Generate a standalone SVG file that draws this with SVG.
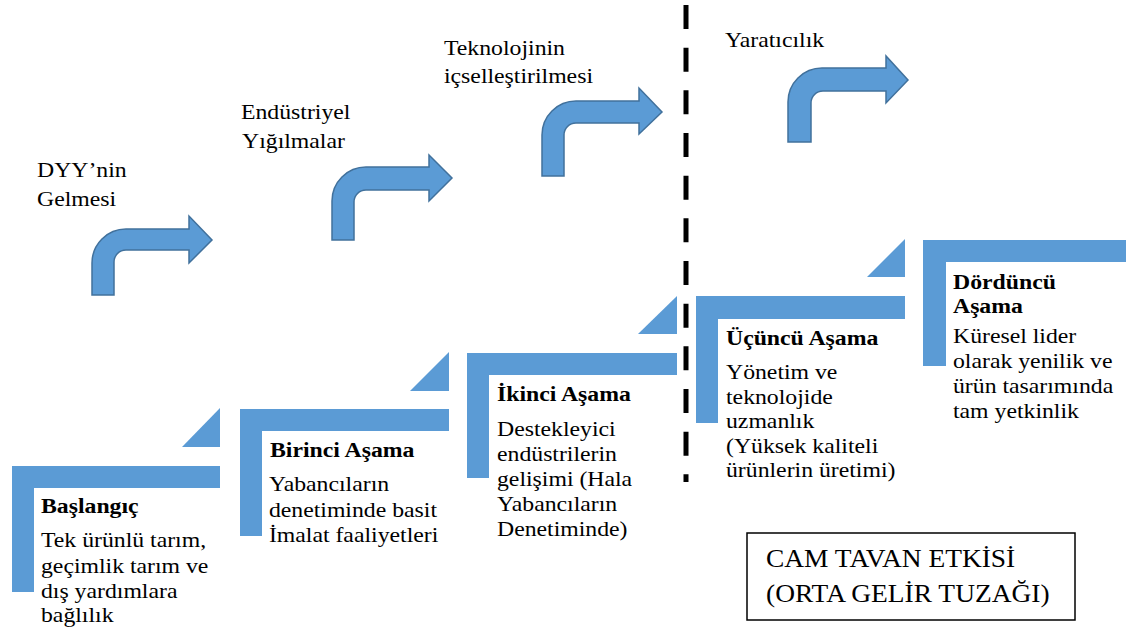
<svg xmlns="http://www.w3.org/2000/svg" width="1126" height="630" viewBox="0 0 1126 630">
<style>
.bar{fill:#5B9BD5}
.arr{fill:#5B9BD5;stroke:#41719C;stroke-width:1.5;stroke-linejoin:miter}
text{font-family:'Liberation Serif','Times New Roman',serif;fill:#000}
.t{font-size:22px}
.h{font-size:22px;font-weight:bold}
.lbl{font-size:22px}
.box{font-size:26px}
</style>
<rect width="1126" height="630" fill="#fff"/>
<g id="connectors">
<path class="arr" d="M92 295 L92 263 A34 34 0 0 1 126 229 L189 229 L189 216 L212 240 L189 263 L189 250 L126 250 A12 12 0 0 0 114 262 L114 295 Z"/>
<path class="arr" d="M332 240 L332 201 A34 34 0 0 1 366 167 L429 167 L429 155 L452 178 L429 201 L429 190 L366 190 A12 12 0 0 0 354 202 L354 240 Z"/>
<path class="arr" d="M542 176 L542 135 A34 34 0 0 1 576 101 L639 101 L639 88 L662 112 L639 134 L639 123 L576 123 A12 12 0 0 0 564 135 L564 176 Z"/>
<path class="arr" d="M788 142 L788 102 A34 34 0 0 1 822 68 L886 68 L886 56 L908 80 L886 103 L886 91 L823 91 A12 12 0 0 0 811 103 L811 142 Z"/>
<line x1="686" y1="5" x2="686" y2="482" stroke="#000" stroke-width="5" stroke-dasharray="24 18.67"/>
</g>
<g id="label-dyy" transform="matrix(1.08 0 0 1 -2.96 0)">
<text class="lbl" x="37" y="177">DYY’nin</text>
<text class="lbl" x="37" y="206">Gelmesi</text>
</g>
<g id="label-endustriyel" transform="matrix(1.08 0 0 1 -19.28 0)">
<text class="lbl" x="241" y="119">Endüstriyel</text>
<text class="lbl" x="242" y="148">Yığılmalar</text>
</g>
<g id="label-teknoloji" transform="matrix(1.08 0 0 1 -35.52 0)">
<text class="lbl" x="444" y="55">Teknolojinin</text>
<text class="lbl" x="444" y="83">içselleştirilmesi</text>
</g>
<g id="label-yaraticilik" transform="matrix(1.08 0 0 1 -58 0)">
<text class="lbl" x="725" y="47">Yaratıcılık</text>
</g>
<g id="step-baslangic">
<path class="bar" d="M12 466 H220 V488 H34 V592 H12 Z"/>
<path class="bar" d="M182 447 L220 408 L220 447 Z"/>
<g transform="matrix(1.08 0 0 1 -3.28 0)">
<text class="h" x="41" y="513">Başlangıç</text>
<text class="t" x="41" y="547">Tek ürünlü tarım,</text>
<text class="t" x="41" y="573">geçimlik tarım ve</text>
<text class="t" x="41" y="598">dış yardımlara</text>
<text class="t" x="41" y="622">bağlılık</text>
</g>
</g>
<g id="step-birinci">
<path class="bar" d="M240 409 H449 V431 H262 V536 H240 Z"/>
<path class="bar" d="M410 391 L449 352 L449 391 Z"/>
<g transform="matrix(1.08 0 0 1 -21.6 0)">
<text class="h" x="270" y="457">Birinci Aşama</text>
<text class="t" x="269" y="491">Yabancıların</text>
<text class="t" x="269" y="517">denetiminde basit</text>
<text class="t" x="269" y="542">İmalat faaliyetleri</text>
</g>
</g>
<g id="step-ikinci">
<path class="bar" d="M467 353 H677 V375 H489 V478 H467 Z"/>
<path class="bar" d="M638 334 L677 296 L677 334 Z"/>
<g transform="matrix(1.08 0 0 1 -39.76 0)">
<text class="h" x="497" y="401">İkinci Aşama</text>
<text class="t" x="497" y="436">Destekleyici</text>
<text class="t" x="497" y="461">endüstrilerin</text>
<text class="t" x="497" y="486">gelişimi (Hala</text>
<text class="t" x="497" y="511">Yabancıların</text>
<text class="t" x="497" y="536">Denetiminde)</text>
</g>
</g>
<g id="step-ucuncu">
<path class="bar" d="M696 296 H905 V319 H718 V423 H696 Z"/>
<path class="bar" d="M867 277 L905 239 L905 277 Z"/>
<g transform="matrix(1.08 0 0 1 -58.08 0)">
<text class="h" x="726" y="345">Üçüncü Aşama</text>
<text class="t" x="726" y="379">Yönetim ve</text>
<text class="t" x="726" y="404">teknolojide</text>
<text class="t" x="726" y="428">uzmanlık</text>
<text class="t" x="726" y="453">(Yüksek kaliteli</text>
<text class="t" x="726" y="477">ürünlerin üretimi)</text>
</g>
</g>
<g id="step-dorduncu">
<path class="bar" d="M923 240 H1126 V262 H946 V366 H923 Z"/>
<g transform="matrix(1.08 0 0 1 -76.24 0)">
<text class="h" x="953" y="289">Dördüncü</text>
<text class="h" x="953" y="313">Aşama</text>
<text class="t" x="953" y="343">Küresel lider</text>
<text class="t" x="953" y="368">olarak yenilik ve</text>
<text class="t" x="953" y="393">ürün tasarımında</text>
<text class="t" x="953" y="418">tam yetkinlik</text>
</g>
</g>
<g id="cam-tavan">
<rect x="747" y="533" width="328" height="87" fill="#fff" stroke="#000" stroke-width="1.5"/>
<g transform="matrix(1.055 0 0 1 -42.13 0)">
<text class="box" x="766" y="567">CAM TAVAN ETKİSİ</text>
<text class="box" x="766" y="602">(ORTA GELİR TUZAĞI)</text>
</g>
</g>
</svg>
